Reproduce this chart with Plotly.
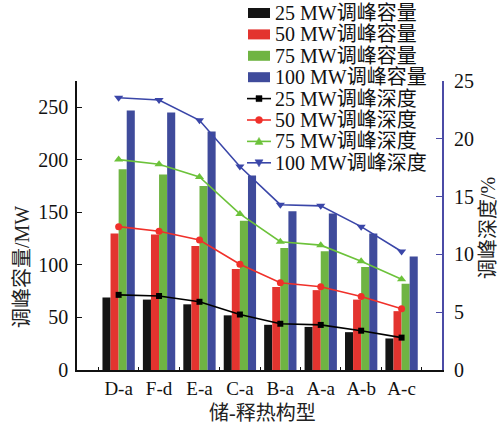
import plotly.graph_objects as go

categories = ["D-a", "F-d", "E-a", "C-a", "B-a", "A-a", "A-b", "A-c"]
cap25 = [69, 67, 62.5, 52, 43, 41, 36, 30]
cap50 = [130, 129, 118, 96, 79, 76, 67, 56]
cap75 = [191, 186, 175, 142, 116, 113, 98, 82]
cap100 = [247, 245, 227, 185, 151, 149, 130, 108]
dep25 = [6.5, 6.4, 5.9, 4.8, 4.0, 3.9, 3.4, 2.8]
dep50 = [12.4, 12.0, 11.25, 9.15, 7.55, 7.2, 6.35, 5.3]
dep75 = [18.2, 17.8, 16.7, 13.5, 11.1, 10.8, 9.4, 7.85]
dep100 = [23.55, 23.35, 21.6, 17.6, 14.3, 14.2, 12.4, 10.25]

cap_names = ["25 MW调峰容量", "50 MW调峰容量", "75 MW调峰容量", "100 MW调峰容量"]
dep_names = ["25 MW调峰深度", "50 MW调峰深度", "75 MW调峰深度", "100 MW调峰深度"]
bar_colors = ["#141414", "#E3342F", "#6FB443", "#3F4B9B"]
line_colors = ["#000000", "#F0302A", "#6CC23A", "#3A46A8"]
markers = ["square", "circle", "triangle-up", "triangle-down"]

FONT = "Liberation Serif, Times New Roman, Noto Sans CJK SC"
W, H = 502, 432
ML, MR, MT, MB = 77, 60, 81, 62

fig = go.Figure()
for vals, name, col in zip([cap25, cap50, cap75, cap100], cap_names, bar_colors):
    fig.add_trace(go.Bar(x=categories, y=vals, name=name, marker=dict(color=col, line=dict(width=0)),
                         showlegend=False, yaxis="y"))
msizes = [6, 7, 8, 8]
for vals, name, col, sym, ms in zip([dep25, dep50, dep75, dep100], dep_names, line_colors, markers, msizes):
    fig.add_trace(go.Scatter(x=categories, y=vals, name=name, mode="lines+markers",
                             line=dict(color=col, width=1.6), marker=dict(symbol=sym, size=ms, color=col),
                             showlegend=False, yaxis="y2"))

pw = W - ML - MR
ph = H - MT - MB


def px2x(px):
    return (px - ML) / pw


def px2y(py):
    return (H - MB - py) / ph


shapes = []
annotations = []
row_y = [13 + 21.4 * i for i in range(8)]
# bar legend entries
for i in range(4):
    yc = row_y[i]
    shapes.append(dict(type="rect", xref="paper", yref="paper", x0=px2x(248), x1=px2x(270),
                       y0=px2y(yc + 5), y1=px2y(yc - 5), fillcolor=bar_colors[i], line=dict(width=0)))
    annotations.append(dict(text=cap_names[i], x=px2x(273), y=px2y(yc), xref="paper", yref="paper",
                            xanchor="left", yanchor="middle", showarrow=False,
                            font=dict(family=FONT, size=20, color="#111")))
# line legend entries
for j in range(4):
    yc = row_y[4 + j]
    col = line_colors[j]
    shapes.append(dict(type="line", xref="paper", yref="paper", x0=px2x(247), x1=px2x(271),
                       y0=px2y(yc), y1=px2y(yc), line=dict(color=col, width=1.6)))
    xa, ya = px2x(259), px2y(yc)
    common = dict(xref="paper", yref="paper", xsizemode="pixel", ysizemode="pixel",
                  xanchor=xa, yanchor=ya, fillcolor=col, line=dict(color=col, width=0.5))
    if j == 0:
        shapes.append(dict(type="rect", x0=-3, x1=3, y0=-3, y1=3, **common))
    elif j == 1:
        shapes.append(dict(type="circle", x0=-3.5, x1=3.5, y0=-3.5, y1=3.5, **common))
    elif j == 2:
        shapes.append(dict(type="path", path="M -4 -3 L 4 -3 L 0 4 Z", **common))
    else:
        shapes.append(dict(type="path", path="M -4 3 L 4 3 L 0 -4 Z", **common))
    annotations.append(dict(text=dep_names[j], x=px2x(273), y=px2y(yc), xref="paper", yref="paper",
                            xanchor="left", yanchor="middle", showarrow=False,
                            font=dict(family=FONT, size=20, color="#111")))

# axis titles
annotations.append(dict(text="调峰容量/MW", x=px2x(22), y=px2y(267), xref="paper", yref="paper",
                        textangle=-90, showarrow=False, xanchor="center", yanchor="middle",
                        font=dict(family=FONT, size=20, color="#222")))
annotations.append(dict(text="调峰深度/%", x=px2x(488), y=px2y(228), xref="paper", yref="paper",
                        textangle=-90, showarrow=False, xanchor="center", yanchor="middle",
                        font=dict(family=FONT, size=20, color="#222")))
annotations.append(dict(text="储-释热构型", x=px2x(262), y=px2y(413), xref="paper", yref="paper",
                        showarrow=False, xanchor="center", yanchor="middle",
                        font=dict(family=FONT, size=20, color="#222")))

fig.update_layout(
    width=W, height=H, autosize=False,
    margin=dict(l=ML, r=MR, t=MT, b=MB, pad=0),
    paper_bgcolor="white", plot_bgcolor="white",
    barmode="group", bargap=0.2, bargroupgap=0,
    font=dict(family=FONT, size=20, color="#111"),
    xaxis=dict(type="category", range=[-1.03, 8.0], tickson="boundaries", ticks="inside", ticklen=3,
               tickcolor="#111", showline=True, linecolor="#111", linewidth=1.5, showgrid=False,
               zeroline=False, ticklabelstandoff=0, tickfont=dict(family=FONT, size=19, color="#111")),
    yaxis=dict(range=[0, 275], tickvals=[0, 50, 100, 150, 200, 250], ticks="inside", ticklen=5,
               tickcolor="#111", showline=True, linecolor="#111", linewidth=1.5, showgrid=False,
               zeroline=False, ticklabelstandoff=3, tickfont=dict(family=FONT, size=20, color="#111")),
    yaxis2=dict(range=[0, 25], tickvals=[0, 5, 10, 15, 20, 25], overlaying="y", side="right",
                ticks="inside", ticklen=6, tickcolor="#4B4BA6", showline=True, linecolor="#4B4BA6",
                linewidth=1.8, showgrid=False, zeroline=False, ticklabelstandoff=6,
                tickfont=dict(family=FONT, size=20, color="#111")),
    shapes=shapes, annotations=annotations,
)

fig.write_html("out.html")
